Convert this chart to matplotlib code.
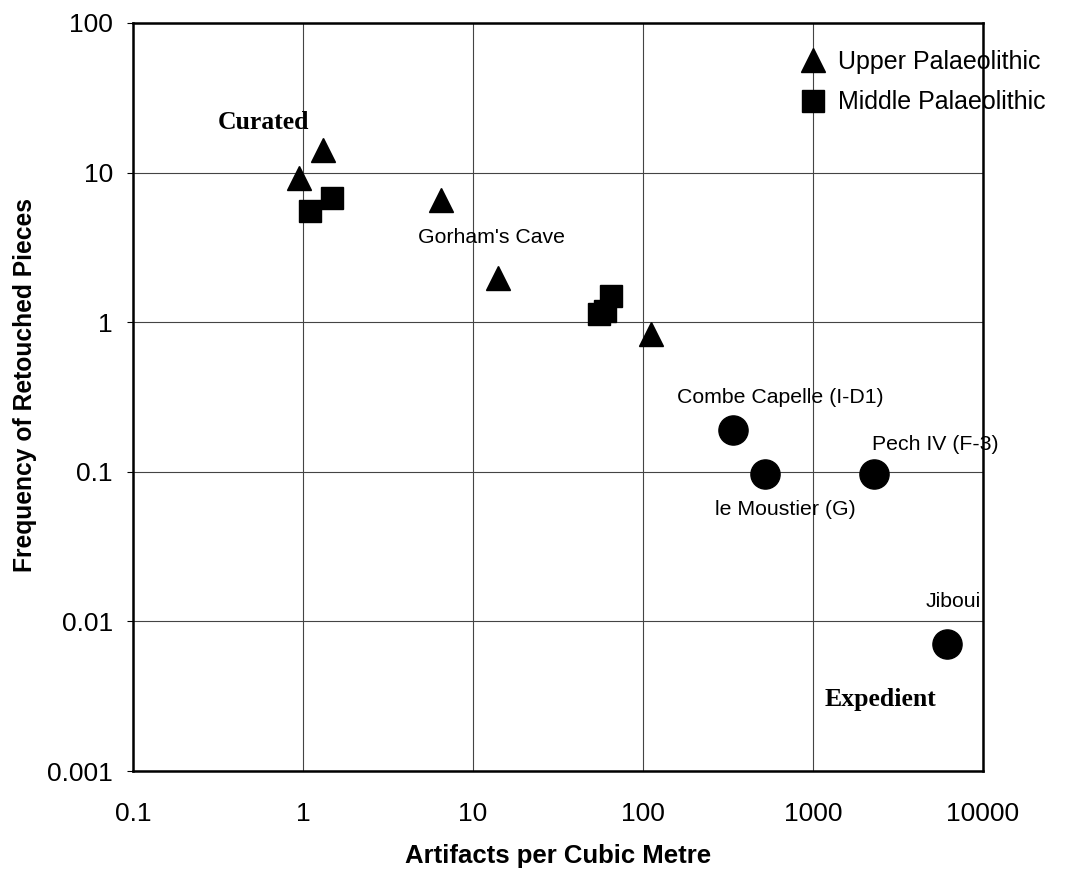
import matplotlib
matplotlib.use("Agg")
import matplotlib.pyplot as plt

# Artifact density (per m^3) vs frequency of retouched pieces
upper_x = [0.95, 1.31, 6.5, 14.0, 111.0]
upper_y = [9.2, 14.2, 6.6, 1.98, 0.84]

middle_x = [1.10, 1.48, 55.0, 60.0, 65.0]
middle_y = [5.5, 6.8, 1.14, 1.19, 1.50]

site_names = ["Combe Capelle (I-D1)", "le Moustier (G)", "Pech IV (F-3)", "Jiboui"]
site_x = [340.0, 522.0, 2285.0, 6166.0]
site_y = [0.19, 0.097, 0.097, 0.0071]

# label anchor positions (data coords) for the named sites
site_label_x = [644.0, 689.0, 5260.0, 6670.0]
site_label_y = [0.313, 0.0558, 0.152, 0.01355]

x_ticks = [0.1, 1, 10, 100, 1000, 10000]
x_ticklabels = ["0.1", "1", "10", "100", "1000", "10000"]
y_ticks = [0.001, 0.01, 0.1, 1, 10, 100]
y_ticklabels = ["0.001", "0.01", "0.1", "1", "10", "100"]

sans = ["Liberation Sans", "DejaVu Sans"]
serif = ["Liberation Serif", "DejaVu Serif"]

fig = plt.figure(figsize=(10.69, 8.73), dpi=100)
ax = fig.add_axes([0.1244, 0.1168, 0.7952, 0.8569])

ax.set_xscale("log")
ax.set_yscale("log")
ax.set_xlim(0.1, 10000)
ax.set_ylim(0.001, 100)

ax.grid(True, which="major", color="#444444", linewidth=0.8, zorder=0)
ax.minorticks_off()
ax.set_axisbelow(True)

ax.plot(upper_x, upper_y, linestyle="none", marker="^", markersize=17.5,
        color="black", label="Upper Palaeolithic", zorder=3)
ax.plot(middle_x, middle_y, linestyle="none", marker="s", markersize=16.5,
        color="black", label="Middle Palaeolithic", zorder=3)
ax.plot(site_x, site_y, linestyle="none", marker="o", markersize=21,
        color="black", zorder=3)

for name, lx, ly in zip(site_names, site_label_x, site_label_y):
    ax.text(lx, ly, name, ha="center", va="center", fontsize=15.3,
            family=sans, zorder=2, clip_on=False)

ax.text(12.8, 3.67, "Gorham's Cave", ha="center", va="center", fontsize=15.3,
        family=sans, zorder=2)
ax.text(0.316, 21.5, "Curated", ha="left", va="center", fontsize=18.5,
        fontweight="bold", family=serif)
ax.text(1175.0, 0.003, "Expedient", ha="left", va="center", fontsize=18.5,
        fontweight="bold", family=serif)

ax.set_xticks(x_ticks)
ax.set_xticklabels(x_ticklabels, family=sans, fontsize=19)
ax.set_yticks(y_ticks)
ax.set_yticklabels(y_ticklabels, family=sans, fontsize=19)
ax.tick_params(axis="y", direction="out", length=4.5, width=0.8, pad=10)
ax.tick_params(axis="x", direction="out", length=0, pad=22)

for spine in ax.spines.values():
    spine.set_linewidth(1.8)
    spine.set_color("black")

ax.set_xlabel("Artifacts per Cubic Metre", family=sans, fontsize=18.5,
              fontweight="bold", labelpad=13)
ax.set_ylabel("Frequency of Retouched Pieces", family=sans, fontsize=17.7,
              fontweight="bold")
ax.yaxis.set_label_coords(-0.113, 0.516)

leg = ax.legend(loc="upper left", bbox_to_anchor=(0.785, 0.964), frameon=False,
                handlelength=1.0, handletextpad=0.5, borderaxespad=0,
                borderpad=0, labelspacing=0.66, numpoints=1,
                prop={"family": sans, "size": 18})

fig.savefig("out.png", dpi=100)
